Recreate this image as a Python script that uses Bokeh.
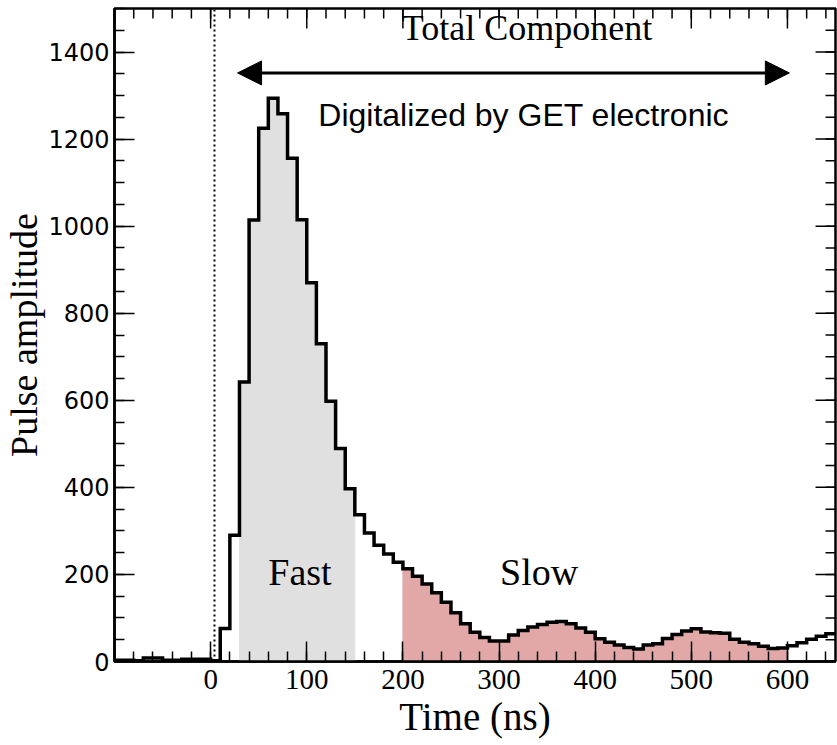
from bokeh.plotting import figure
from bokeh.models import FixedTicker, LinearAxis, Range1d, Label, Arrow, NormalHead
from bokeh.embed import file_html
from bokeh.resources import INLINE

# ---- data ----
bin_start = [-100, -90, -80, -70, -60, -50, -40, -30, -20, -10,
             0, 10, 20, 30, 40, 50, 60, 70, 80, 90,
             100, 110, 120, 130, 140, 150, 160, 170, 180, 190,
             200, 210, 220, 230, 240, 250, 260, 270, 280, 290,
             300, 310, 320, 330, 340, 350, 360, 370, 380, 390,
             400, 410, 420, 430, 440, 450, 460, 470, 480, 490,
             500, 510, 520, 530, 540, 550, 560, 570, 580, 590,
             600, 610, 620, 630, 640]
bin_width = 10
amplitude = [3, 3, 2, 8, 8, 3, 3, 5, 5, 5,
             2, 76, 290, 642, 1014, 1225, 1294, 1258, 1156, 1015,
             870, 730, 598, 489, 397, 337, 295, 267, 247, 228,
             213, 196, 178, 158, 136, 112, 87, 67, 55, 47,
             47, 61, 71, 79, 85, 90, 92, 87, 77, 67,
             52, 44, 38, 32, 29, 38, 41, 53, 62, 70,
             75, 68, 66, 65, 51, 44, 41, 35, 30, 31,
             36, 43, 51, 58, 64]

fast_window = (30, 150)
slow_window = (200, 600)
total_window = (28, 602)
trigger_time = 4

x_range = (-100, 650)
y_range = (0, 1500)
x_major = [0, 100, 200, 300, 400, 500, 600]
x_minor = [-100, -80, -60, -40, -20, 0, 20, 40, 60, 80, 100, 120, 140, 160, 180, 200,
           220, 240, 260, 280, 300, 320, 340, 360, 380, 400, 420, 440, 460, 480, 500,
           520, 540, 560, 580, 600, 620, 640]
y_major = [0, 200, 400, 600, 800, 1000, 1200, 1400]
y_minor = [0, 50, 100, 150, 200, 250, 300, 350, 400, 450, 500, 550, 600, 650, 700, 750,
           800, 850, 900, 950, 1000, 1050, 1100, 1150, 1200, 1250, 1300, 1350, 1400, 1450, 1500]

SERIF = "Liberation Serif"
SANS = "DejaVu Sans"

W, H = 837, 745
BL, BR, BT, BB = 113, 2, 8, 84
frame_w, frame_h = W - BL - BR, H - BT - BB
px_x = (x_range[1] - x_range[0]) / frame_w   # data units per pixel (x)
px_y = (y_range[1] - y_range[0]) / frame_h   # data units per pixel (y)

p = figure(width=W, height=H, output_backend="svg", toolbar_location=None,
           x_range=Range1d(*x_range), y_range=Range1d(*y_range),
           x_axis_type=None, y_axis_type=None,
           min_border_left=BL, min_border_right=BR, min_border_top=BT, min_border_bottom=BB)
p.background_fill_color = "white"
p.border_fill_color = "white"
p.outline_line_color = "black"
p.outline_line_width = 2.5
p.xgrid.visible = False
p.ygrid.visible = False

xt = FixedTicker(ticks=x_major, minor_ticks=x_minor)
yt = FixedTicker(ticks=y_major, minor_ticks=y_minor)


def style_axis(ax):
    ax.axis_line_color = "black"
    ax.axis_line_width = 2.5
    ax.major_tick_in = 20
    ax.major_tick_out = 0
    ax.minor_tick_in = 10
    ax.minor_tick_out = 0
    ax.major_tick_line_width = 1.5
    ax.minor_tick_line_width = 1.5
    ax.major_tick_line_color = "black"
    ax.minor_tick_line_color = "black"
    ax.major_label_text_color = "black"
    ax.axis_label_text_color = "black"
    ax.axis_label_text_font = SERIF
    ax.axis_label_text_font_style = "normal"


left = LinearAxis(ticker=yt, axis_label="Pulse amplitude")
style_axis(left)
left.major_label_text_font = SANS
left.major_label_text_font_size = "24px"
left.major_label_standoff = 5
left.axis_label_text_font_size = "38px"
left.axis_label_standoff = 0
p.add_layout(left, "left")

below = LinearAxis(ticker=xt, axis_label="Time (ns)")
style_axis(below)
below.major_label_text_font = SERIF
below.major_label_text_font_size = "29px"
below.major_label_standoff = 8
below.axis_label_text_font_size = "39px"
below.axis_label_standoff = 3
p.add_layout(below, "below")

# inward ticks on the top and right edges of the frame
p.segment(x0=x_major, y0=y_range[1], x1=x_major, y1=y_range[1] - 20 * px_y,
          line_color="black", line_width=1.5)
p.segment(x0=x_minor, y0=y_range[1], x1=x_minor, y1=y_range[1] - 10 * px_y,
          line_color="black", line_width=1.5)
p.segment(x0=x_range[1], y0=y_major, x1=x_range[1] - 20 * px_x, y1=y_major,
          line_color="black", line_width=1.5)
p.segment(x0=x_range[1], y0=y_minor, x1=x_range[1] - 10 * px_x, y1=y_minor,
          line_color="black", line_width=1.5)

# filled regions (built from the bins)
fast_l = [s for s in bin_start if fast_window[0] <= s < fast_window[1]]
fast_t = [a for s, a in zip(bin_start, amplitude) if fast_window[0] <= s < fast_window[1]]
slow_l = [s for s in bin_start if slow_window[0] <= s < slow_window[1]]
slow_t = [a for s, a in zip(bin_start, amplitude) if slow_window[0] <= s < slow_window[1]]

p.quad(left=fast_l, right=[s + bin_width for s in fast_l], bottom=0, top=fast_t,
       fill_color="#e0e0e0", line_color="#e0e0e0", line_width=1)
p.quad(left=slow_l, right=[s + bin_width for s in slow_l], bottom=0, top=slow_t,
       fill_color="#e2a8a8", line_color="#e2a8a8", line_width=1)

# trigger line
p.line(x=[trigger_time, trigger_time], y=list(y_range), line_color="black",
       line_width=2, line_dash="2 3")

# histogram outline
p.step(x=bin_start + [bin_start[-1] + bin_width], y=amplitude + [amplitude[-1]],
       mode="after", line_color="black", line_width=3.5, line_join="miter")

# annotations
p.add_layout(Arrow(x_start=total_window[0], x_end=total_window[1],
                   y_start=1352, y_end=1352, line_width=3, line_color="black",
                   start=NormalHead(size=24, fill_color="black", line_color="black"),
                   end=NormalHead(size=24, fill_color="black", line_color="black")))

p.add_layout(Label(x=329, y=1456, text="Total Component", text_font=SERIF,
                   text_font_size="36px", text_align="center", text_baseline="middle",
                   text_color="black"))
p.add_layout(Label(x=112, y=1255, text="Digitalized by GET electronic", text_font="Liberation Sans",
                   text_font_size="32px", text_align="left", text_baseline="middle",
                   text_color="black"))
p.add_layout(Label(x=60, y=205, text="Fast", text_font=SERIF,
                   text_font_size="38px", text_align="left", text_baseline="middle",
                   text_color="black"))
p.add_layout(Label(x=301, y=205, text="Slow", text_font=SERIF,
                   text_font_size="38px", text_align="left", text_baseline="middle",
                   text_color="black"))

open("out.html", "w").write(file_html(p, INLINE))
